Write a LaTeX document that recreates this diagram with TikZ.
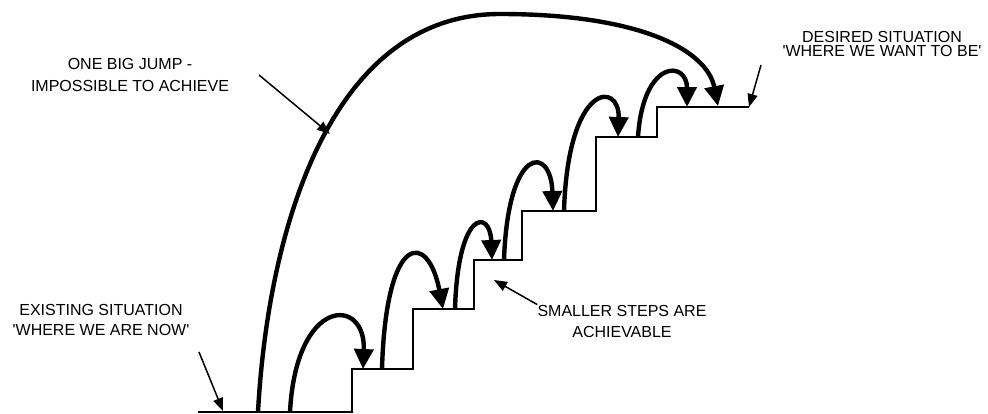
\documentclass[tikz,border=0pt]{standalone}
\usepackage{fontspec}
\setmainfont{Liberation Sans}
\usetikzlibrary{arrows.meta,positioning}
\tikzset{
  steplabel/.style={align=center, inner sep=0pt, font=\fontsize{16}{20}\selectfont},
  stairline/.style={line width=2pt, line join=miter},
  jumparrow/.style={-{Triangle[length=20pt,width=19pt]}, line width=4.4pt},
  pointarrow/.style={-{Triangle[length=13pt,width=10pt]}, line width=1.5pt}
}

\begin{document}
\begin{tikzpicture}[x=1pt, y=-1pt]
    \useasboundingbox (0,0) rectangle (988,413);
    % the stairs
    \coordinate (floor) at (198,412);
    \coordinate (goal) at (749,107);
    \draw[stairline] (floor) -- (352,412) -- (352,369) -- (413,369) -- (413,309)
      -- (474,309) -- (474,260) -- (522,260) -- (522,211) -- (596,211)
      -- (596,137) -- (657,137) -- (657,107) -- (goal);
    % labels
    \node[steplabel, font=\fontsize{16}{22}\selectfont] (bigjump) at (130,75)
      {ONE BIG JUMP -\\IMPOSSIBLE TO ACHIEVE};
    \node[steplabel] (existing) at (101,320)
      {EXISTING SITUATION\\\textquotesingle WHERE WE ARE NOW\textquotesingle};
    \node[steplabel, font=\fontsize{16}{14.5}\selectfont] (desired) at (882,44)
      {DESIRED SITUATION\\\textquotesingle WHERE WE WANT TO BE\textquotesingle};
    \node[steplabel, font=\fontsize{16}{21}\selectfont] (smaller) at (622,321)
      {SMALLER STEPS ARE\\ACHIEVABLE};
    % the one big jump
    \coordinate (bigfrom) at (258,412);
    \coordinate (bigtop) at (500,14);
    \coordinate (bigto) at (718,106);
    \draw[jumparrow] (bigfrom) .. controls (268,230) and (330,14) .. (bigtop)
      .. controls (640,14) and (707,50) .. (bigto);
    % the small steps
    \coordinate (hop1) at (290,412);  \coordinate (land1) at (363,369);
    \coordinate (hop2) at (382,369);  \coordinate (land2) at (443,309);
    \coordinate (hop3) at (455,309);  \coordinate (land3) at (492,260);
    \coordinate (hop4) at (504,260);  \coordinate (land4) at (553,211);
    \coordinate (hop5) at (564,211);  \coordinate (land5) at (618,137);
    \coordinate (hop6) at (638,137);  \coordinate (land6) at (687,107);
    \draw[jumparrow] (hop1) .. controls +(6,-116) and +(3,-73) .. (land1);
    \draw[jumparrow] (hop2) .. controls +(4,-138) and +(-15,-78) .. (land2);
    \draw[jumparrow] (hop3) .. controls +(3,-100) and +(-2,-51) .. (land3);
    \draw[jumparrow] (hop4) .. controls +(4,-116) and +(-2,-66) .. (land4);
    \draw[jumparrow] (hop5) .. controls +(4,-130) and +(2,-56) .. (land5);
    \draw[jumparrow] (hop6) .. controls +(5,-78) and +(0,-47) .. (land6);
    % pointers from the labels
    \coordinate (bigjumptail) at (259,75);
    \coordinate (bigjumphit) at (330,134);
    \coordinate (desiredtail) at (761,65);
    \coordinate (existingtail) at (199,352);
    \coordinate (existinghit) at (223,411);
    \coordinate (smallerhit) at (494,280);
    \draw[pointarrow] (bigjumptail) -- (bigjumphit);
    \draw[pointarrow] (desiredtail) -- (goal);
    \draw[pointarrow] (existingtail) -- (existinghit);
    \draw[pointarrow] (smaller.north west) -- (smallerhit);
  \end{tikzpicture}
\end{document}
